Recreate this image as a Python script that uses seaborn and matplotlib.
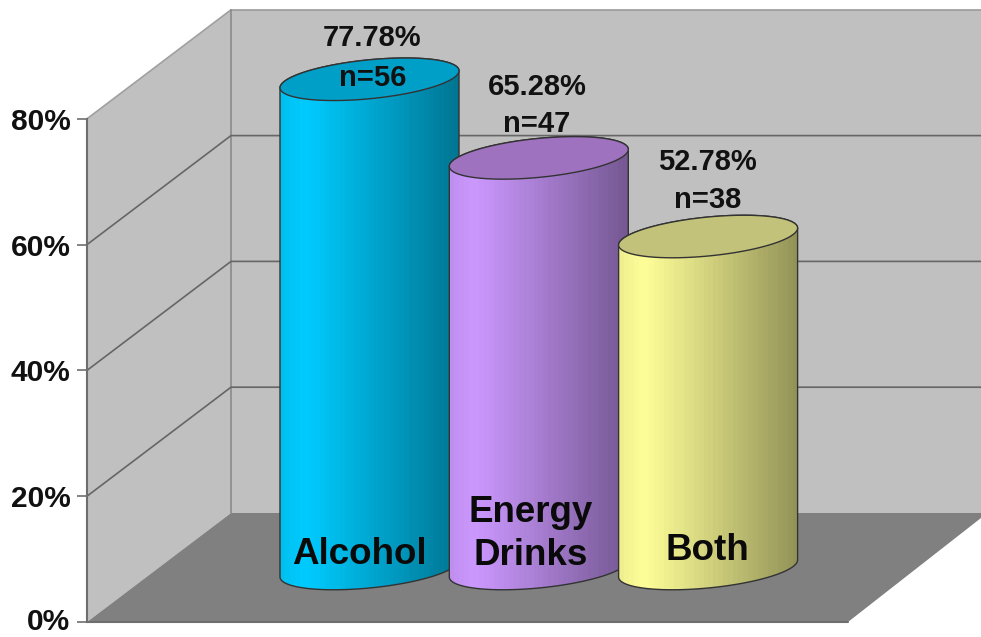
import numpy as np
import matplotlib
matplotlib.use('Agg')
import matplotlib.pyplot as plt
from matplotlib.patches import Polygon
from matplotlib.colors import to_rgb
from matplotlib.transforms import ScaledTranslation
import seaborn as sns

# данные
categories = ['Alcohol', 'Energy\nDrinks', 'Both']
values = [77.78, 65.28, 52.78]
counts = [56, 47, 38]
y_ticks = [0, 20, 40, 60, 80]
colors = ['#00CCFF', '#CC99FF', '#FFFF99']
top_colors = ['#009FC8', '#9F72BF', '#C2C27A']

# геометрия в пикселях
W, H = 981, 637
PX_PER_PCT = 6.29
FRONT_X, BACK_X = 87, 231
FRONT_Y0, BACK_Y0 = 622, 513
BAR_Y0 = 568.5
BAR_STEP = 169.3
BAR_X0 = 369.5
BAR_W = 179

sns.set_theme(style='white')
plt.rcParams['font.family'] = ['Liberation Sans', 'DejaVu Sans']
plt.rcParams['font.weight'] = 'bold'

fig = plt.figure(figsize=(W / 100, H / 100), dpi=100)

# стенки и пол
bg = fig.add_axes([0, 0, 1, 1])
bg.set_xlim(0, W)
bg.set_ylim(H, 0)
bg.patch.set_alpha(0)

top_back = BACK_Y0 - 80 * PX_PER_PCT
top_front = FRONT_Y0 - 80 * PX_PER_PCT
bg.add_patch(Polygon([(BACK_X, top_back), (W, top_back), (W, BACK_Y0), (BACK_X, BACK_Y0)],
                     fc='#C0C0C0', ec='none'))
bg.add_patch(Polygon([(FRONT_X, top_front), (BACK_X, top_back), (BACK_X, BACK_Y0), (FRONT_X, FRONT_Y0)],
                     fc='#C0C0C0', ec='none'))
bg.add_patch(Polygon([(FRONT_X, FRONT_Y0), (BACK_X, BACK_Y0), (W, BACK_Y0), (W, 518), (848, FRONT_Y0)],
                     fc='#808080', ec='none'))

bg.plot([BACK_X, W], [top_back, top_back], color='#9a9a9a', lw=1.2)
bg.plot([FRONT_X, BACK_X], [top_front, top_back], color='#a0a0a0', lw=1.2)
bg.plot([BACK_X, BACK_X], [top_back, BACK_Y0], color='#8a8a8a', lw=1.2)
bg.plot([FRONT_X, 848], [FRONT_Y0, FRONT_Y0], color='#6e6e6e', lw=1.5)
for v in y_ticks[1:-1]:
    yf = FRONT_Y0 - v * PX_PER_PCT
    yb = BACK_Y0 - v * PX_PER_PCT
    bg.plot([FRONT_X, BACK_X, W], [yf, yb, yb], color='#666666', lw=1.2)

sns.despine(ax=bg, top=True, right=True, bottom=True, left=False)
bg.spines['left'].set_position(('data', FRONT_X))
bg.spines['left'].set_bounds(FRONT_Y0, top_front)
bg.spines['left'].set_color('#6e6e6e')
bg.spines['left'].set_linewidth(1.5)
bg.set_xticks([])
bg.set_yticks([FRONT_Y0 - v * PX_PER_PCT for v in y_ticks])
bg.set_yticklabels([f'{v}%' for v in y_ticks], fontsize=21.5, color='#111111', fontweight='bold')
bg.tick_params(axis='y', left=True, length=7, width=1.2, color='#6e6e6e', pad=5)

# подпись 0% чуть выше, иначе упирается в нижний край
zero_label = bg.get_yticklabels()[0]
zero_label.set_transform(zero_label.get_transform() + ScaledTranslation(0, 3 / 100, fig.dpi_scale_trans))

# цилиндры
ax = fig.add_axes([0, 0, 1, 1])
ax.patch.set_alpha(0)
sns.barplot(x=categories, y=values, hue=categories, palette=colors, legend=False,
            width=BAR_W / BAR_STEP, saturation=1, ax=ax)
ax.axis('off')

# профиль блика слева направо
shade = np.interp(np.linspace(0, 1, 36), [0, 0.13, 0.55, 1], [0.94, 1.0, 0.8, 0.58])


def ellipse(cx, half_w, y, t):
    # слегка наклонённый эллипс, в данных оси
    ex = cx + half_w * np.cos(t)
    ey = y + (19.5 * np.sin(t) + 8.5 * np.cos(t)) / PX_PER_PCT
    return np.column_stack([ex, ey])


for i, bar in enumerate(ax.patches):
    h = bar.get_height()
    w = bar.get_width()
    cx = bar.get_x() + w / 2
    z = 3 + i

    lower = ellipse(cx, w / 2, 0, np.linspace(np.pi, 2 * np.pi, 80))
    upper = ellipse(cx, w / 2, h, np.linspace(0, np.pi, 80))
    body = Polygon(np.vstack([lower, upper]), closed=True, fc='none',
                   ec='#333333', lw=1.0, zorder=z + 0.3)
    ax.add_patch(body)
    bar.set_zorder(z)
    bar.set_clip_path(body)

    rgb = np.array(to_rgb(colors[i]))
    grad = shade[None, :, None] * rgb[None, None, :]
    im = ax.imshow(grad, extent=[cx - w / 2, cx + w / 2, -6, h + 6], aspect='auto',
                   interpolation='nearest', zorder=z + 0.1)
    im.set_clip_path(body)

    top = ellipse(cx, w / 2, h, np.linspace(0, 2 * np.pi, 160))
    ax.add_patch(Polygon(top, closed=True, fc=top_colors[i], ec='#333333', lw=1.0, zorder=z + 0.4))

ax.set_xlim((0 - BAR_X0) / BAR_STEP, (W - BAR_X0) / BAR_STEP)
ax.set_ylim(-(H - BAR_Y0) / PX_PER_PCT, BAR_Y0 / PX_PER_PCT)

# подписи: центры текста в пикселях
pct_pos = [(372, 38), (537, 87), (707, 162)]
n_pos = [(373, 78), (537, 124), (708, 200)]
name_pos = [(359, 554), (531, 534), (707, 550)]

for i in range(len(categories)):
    ax.text(*pct_pos[i], f'{values[i]:.2f}%', transform=bg.transData, ha='center', va='center',
            fontsize=21, color='#111111', fontweight='bold', zorder=10)
    ax.text(*n_pos[i], f'n={counts[i]}', transform=bg.transData, ha='center', va='center',
            fontsize=21, color='#111111', fontweight='bold', zorder=10)
    ax.text(*name_pos[i], categories[i], transform=bg.transData, ha='center', va='center',
            fontsize=26.5, color='#0a0a0a', fontweight='bold', linespacing=1.3, zorder=10)

fig.savefig('out.png', dpi=100)
